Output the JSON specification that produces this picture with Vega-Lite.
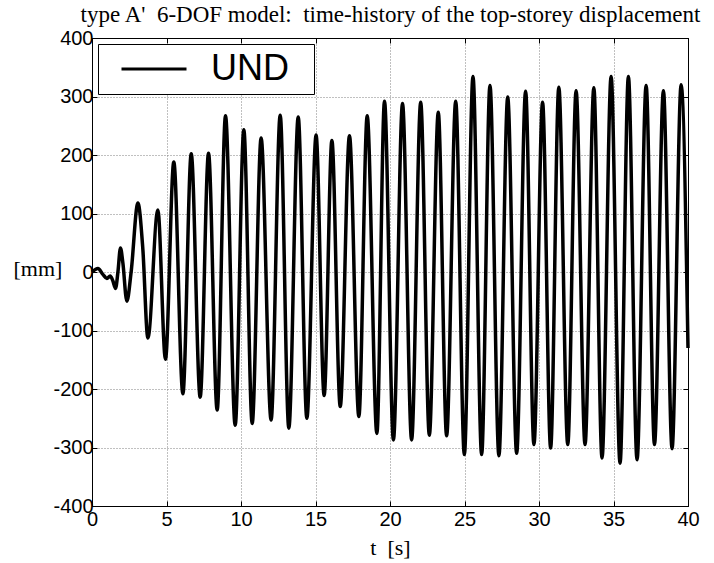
{
  "$schema": "https://vega.github.io/schema/vega-lite/v6.json",
  "width": 596,
  "height": 468,
  "autosize": {"type": "none"},
  "padding": {"left": 92, "top": 38, "right": 26, "bottom": 57},
  "background": "white",
  "config": {
    "view": {"stroke": "black", "strokeWidth": 1},
    "axis": {
      "labelFont": "Liberation Sans",
      "labelFontSize": 20,
      "labelColor": "black",
      "labelFlush": false,
      "titleFont": "Liberation Serif",
      "titleFontSize": 22,
      "titleFontWeight": "normal",
      "titleColor": "black",
      "domainColor": "black",
      "tickColor": "black",
      "tickSize": -5,
      "gridColor": "#808080",
      "gridDash": [1, 2],
      "gridWidth": 1
    }
  },
  "data": {
    "values": [
      {"t": 0, "d": 0}, {"t": 0.4, "d": 6}, {"t": 0.73, "d": -4}, {"t": 1.0, "d": -11},
      {"t": 1.22, "d": -7}, {"t": 1.4, "d": -15}, {"t": 1.58, "d": -28}, {"t": 1.74, "d": 0},
      {"t": 1.91, "d": 41}, {"t": 2.07, "d": 16}, {"t": 2.34, "d": -50}, {"t": 2.63, "d": 1},
      {"t": 3.08, "d": 118}, {"t": 3.41, "d": 40}, {"t": 3.75, "d": -113}, {"t": 4.42, "d": 106},
      {"t": 4.93, "d": -149}, {"t": 5.49, "d": 188}, {"t": 6.1, "d": -208}, {"t": 6.66, "d": 202},
      {"t": 7.26, "d": -214}, {"t": 7.82, "d": 203}, {"t": 8.4, "d": -236}, {"t": 8.96, "d": 267},
      {"t": 9.61, "d": -262}, {"t": 10.19, "d": 243}, {"t": 10.75, "d": -259}, {"t": 11.35, "d": 229},
      {"t": 12.02, "d": -253}, {"t": 12.63, "d": 268}, {"t": 13.21, "d": -267}, {"t": 13.84, "d": 265},
      {"t": 14.42, "d": -250}, {"t": 15.04, "d": 234}, {"t": 15.58, "d": -211}, {"t": 16.1, "d": 225},
      {"t": 16.66, "d": -230}, {"t": 17.28, "d": 233}, {"t": 17.91, "d": -247}, {"t": 18.47, "d": 267},
      {"t": 19.12, "d": -276}, {"t": 19.63, "d": 292}, {"t": 20.23, "d": -287}, {"t": 20.84, "d": 288},
      {"t": 21.45, "d": -287}, {"t": 22.06, "d": 290}, {"t": 22.64, "d": -279}, {"t": 23.24, "d": 273},
      {"t": 23.8, "d": -280}, {"t": 24.41, "d": 292}, {"t": 24.99, "d": -312}, {"t": 25.57, "d": 334},
      {"t": 26.15, "d": -312}, {"t": 26.71, "d": 319}, {"t": 27.31, "d": -314}, {"t": 27.9, "d": 299},
      {"t": 28.5, "d": -310}, {"t": 29.1, "d": 309}, {"t": 29.66, "d": -295}, {"t": 30.24, "d": 290},
      {"t": 30.78, "d": -301}, {"t": 31.33, "d": 316}, {"t": 31.93, "d": -295}, {"t": 32.49, "d": 310},
      {"t": 33.09, "d": -295}, {"t": 33.68, "d": 315}, {"t": 34.23, "d": -318}, {"t": 34.84, "d": 334},
      {"t": 35.44, "d": -327}, {"t": 36.0, "d": 334}, {"t": 36.58, "d": -321}, {"t": 37.19, "d": 319},
      {"t": 37.75, "d": -295}, {"t": 38.35, "d": 310}, {"t": 38.93, "d": -302}, {"t": 39.54, "d": 320},
      {"t": 40.0, "d": -130}
    ]
  },
  "layer": [
    {
      "mark": {"type": "line", "interpolate": "monotone", "strokeWidth": 3.5},
      "encoding": {
        "x": {
          "field": "t",
          "type": "quantitative",
          "scale": {"domain": [0, 40], "nice": false, "zero": false},
          "axis": {
            "values": [0, 5, 10, 15, 20, 25, 30, 35, 40],
            "title": "t \u00a0[s]",
            "titleY": 48,
            "titleBaseline": "alphabetic",
            "labelPadding": 8,
            "grid": true
          }
        },
        "y": {
          "field": "d",
          "type": "quantitative",
          "scale": {"domain": [-400, 400], "nice": false, "zero": false},
          "axis": {
            "values": [-400, -300, -200, -100, 0, 100, 200, 300, 400],
            "labelExpr": "'' + datum.value",
            "title": "[mm]",
            "titleAngle": 0,
            "titleAlign": "left",
            "titleBaseline": "middle",
            "titleX": -79,
            "titleY": 230,
            "labelPadding": 4,
            "grid": true
          }
        },
        "color": {
          "datum": "UND",
          "type": "nominal",
          "scale": {"range": ["black"]},
          "legend": {
            "title": "m",
            "titleOrient": "right",
            "titleOpacity": 0,
            "titleFontSize": 14,
            "titlePadding": 5,
            "orient": "none",
            "legendX": 6,
            "legendY": 6,
            "symbolType": "stroke",
            "symbolSize": 4225,
            "symbolStrokeWidth": 3,
            "symbolStrokeColor": "black",
            "symbolOffset": 15,
            "clipHeight": 36,
            "labelFont": "Liberation Sans",
            "labelFontSize": 36,
            "labelColor": "black",
            "labelOffset": 23,
            "padding": 7,
            "strokeColor": "black",
            "fillColor": "white"
          }
        }
      }
    },
    {
      "mark": {"type": "line", "strokeOpacity": 0},
      "encoding": {
        "x": {
          "field": "t",
          "type": "quantitative",
          "axis": {
            "orient": "top",
            "values": [0, 5, 10, 15, 20, 25, 30, 35, 40],
            "labels": false,
            "title": "type A' \u00a06-DOF model: \u00a0time-history of the top-storey displacement",
            "titleFontSize": 23,
            "titleAnchor": "middle",
            "titleX": 298,
            "titleY": -17,
            "titleBaseline": "alphabetic",
            "grid": false,
            "minExtent": 0,
            "maxExtent": 0
          }
        },
        "y": {
          "field": "d",
          "type": "quantitative",
          "axis": {
            "orient": "right",
            "values": [-400, -300, -200, -100, 0, 100, 200, 300, 400],
            "labels": false,
            "title": null,
            "grid": false,
            "minExtent": 0,
            "maxExtent": 0
          }
        }
      }
    }
  ],
  "resolve": {"axis": {"x": "independent", "y": "independent"}}
}
